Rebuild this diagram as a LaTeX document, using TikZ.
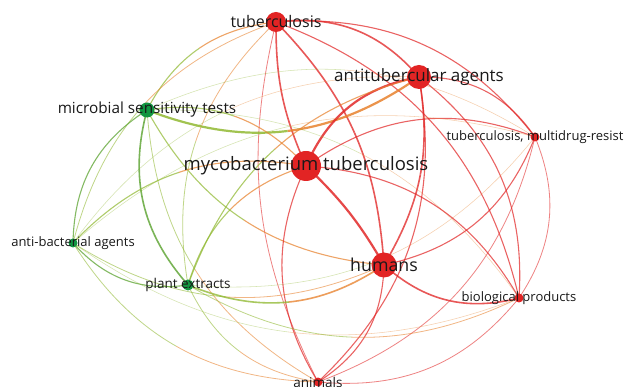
\documentclass[tikz,border=0pt]{standalone}
\usepackage{fontspec}
\setmainfont{Open Sans}
\usetikzlibrary{calc}
\definecolor{rr}{RGB}{226,40,40}
\definecolor{gg}{RGB}{85,160,40}
\definecolor{gy}{RGB}{145,185,50}
\definecolor{oo}{RGB}{232,130,45}
\definecolor{nodered}{RGB}{226,36,36}
\definecolor{nodegreen}{RGB}{18,150,65}
\definecolor{txt}{RGB}{25,25,25}
\newcommand\lnk[6]{%
 \coordinate (p0) at (#1);
 \coordinate (p3) at (#2);
 \coordinate (p1) at ($(p0)!0.3915!#3:(p3)$);
 \coordinate (p2) at ($(p3)!0.3915!-#3:(p0)$);
 \coordinate (q1) at ($(p0)!0.5!(p1)$);
 \coordinate (rm) at ($(p1)!0.5!(p2)$);
 \coordinate (q3) at ($(p2)!0.5!(p3)$);
 \coordinate (q2) at ($(q1)!0.5!(rm)$);
 \coordinate (q4) at ($(rm)!0.5!(q3)$);
 \coordinate (mm) at ($(q2)!0.5!(q4)$);
 \draw[#4,draw=#5] (p0) .. controls (q1) and (q2) .. (mm);
 \draw[#4,draw=#6] (mm) .. controls (q4) and (q3) .. (p3);
}
\tikzset{
 w1/.style={line width=0.55pt, draw opacity=0.38},
 w2/.style={line width=0.8pt, draw opacity=0.58},
 w3/.style={line width=1.1pt, draw opacity=0.72},
 w4/.style={line width=1.6pt, draw opacity=0.78},
 w5/.style={line width=2.2pt, draw opacity=0.85},
 dotR/.style={circle, fill=nodered, inner sep=0pt, minimum size=#1},
 dotG/.style={circle, fill=nodegreen, inner sep=0pt, minimum size=#1},
 lbl/.style={text=txt, inner sep=0pt, anchor=center}
}
\begin{document}
\begin{tikzpicture}[x=1pt,y=-1pt]
\clip (0,0) rectangle (624,387);
\fill[white] (0,0) rectangle (624,387);
% node positions
\node[coordinate] (T) at (276,22) {};
\node[coordinate] (A) at (419,77) {};
\node[coordinate] (M) at (147,110) {};
\node[coordinate] (R) at (535,137) {};
\node[coordinate] (Y) at (306,166) {};
\node[coordinate] (B) at (73,243) {};
\node[coordinate] (H) at (384,265) {};
\node[coordinate] (P) at (188,285) {};
\node[coordinate] (G) at (519,298) {};
\node[coordinate] (N) at (318,382) {};
% links
\lnk{T}{A}{28}{w4}{rr}{rr}
\lnk{M}{T}{28}{w3}{gy}{oo}
\lnk{T}{R}{28}{w3}{rr}{rr}
\lnk{Y}{T}{12}{w4}{rr}{rr}
\lnk{B}{T}{28}{w2}{gy}{oo}
\lnk{T}{H}{20}{w4}{rr}{rr}
\lnk{P}{T}{28}{w2}{gy}{oo}
\lnk{T}{G}{28}{w3}{rr}{rr}
\lnk{N}{T}{20}{w2}{rr}{rr}
\lnk{A}{M}{28}{w5}{oo}{gy}
\lnk{A}{R}{28}{w3}{rr}{rr}
\lnk{Y}{A}{28}{w5}{rr}{rr}
\lnk{B}{A}{28}{w1}{gy}{oo}
\lnk{A}{H}{20}{w4}{rr}{rr}
\lnk{P}{A}{28}{w3}{gy}{oo}
\lnk{A}{G}{28}{w3}{rr}{rr}
\lnk{A}{N}{28}{w3}{rr}{rr}
\lnk{M}{R}{28}{w1}{gy}{oo}
\lnk{M}{Y}{28}{w3}{gy}{oo}
\lnk{B}{M}{28}{w3}{gg}{gg}
\lnk{H}{M}{28}{w3}{oo}{gy}
\lnk{P}{M}{28}{w4}{gg}{gg}
\lnk{M}{G}{28}{w1}{gy}{oo}
\lnk{N}{M}{28}{w2}{oo}{gy}
\lnk{Y}{R}{28}{w3}{rr}{rr}
\lnk{B}{R}{28}{w1}{gy}{oo}
\lnk{R}{H}{28}{w3}{rr}{rr}
\lnk{R}{P}{28}{w1}{oo}{gy}
\lnk{R}{G}{28}{w2}{rr}{rr}
\lnk{R}{N}{28}{w2}{rr}{rr}
\lnk{B}{Y}{28}{w3}{gy}{oo}
\lnk{Y}{H}{8}{w5}{rr}{rr}
\lnk{P}{Y}{28}{w3}{gy}{oo}
\lnk{Y}{G}{28}{w3}{rr}{rr}
\lnk{N}{Y}{28}{w3}{rr}{rr}
\lnk{H}{B}{28}{w2}{oo}{gy}
\lnk{P}{B}{28}{w3}{gg}{gg}
\lnk{G}{B}{28}{w1}{oo}{gy}
\lnk{N}{B}{28}{w2}{oo}{gy}
\lnk{H}{P}{28}{w4}{oo}{gy}
\lnk{G}{H}{28}{w4}{rr}{rr}
\lnk{H}{N}{28}{w3}{rr}{rr}
\lnk{G}{P}{28}{w2}{oo}{gy}
\lnk{N}{P}{28}{w2}{oo}{gy}
\lnk{G}{N}{28}{w2}{rr}{rr}
% node dots
\node[dotR=20pt] (Tc) at (T) {};
\node[dotR=24pt] (Ac) at (A) {};
\node[dotG=15pt] (Mc) at (M) {};
\node[dotR=9pt] (Rc) at (R) {};
\node[dotR=30pt] (Yc) at (Y) {};
\node[dotG=9pt] (Bc) at (B) {};
\node[dotR=25pt] (Hc) at (H) {};
\node[dotG=11pt] (Pc) at (P) {};
\node[dotR=9pt] (Gc) at (G) {};
\node[dotR=9pt] (Nc) at (N) {};
% labels
\node[lbl, font=\fontsize{16}{16}\selectfont] (Tl) at (T) {tuberculosis};
\node[lbl, font=\fontsize{17}{17}\selectfont] (Al) at (A) {antitubercular agents};
\node[lbl, font=\fontsize{15.3}{15}\selectfont] (Ml) at (M) {microbial sensitivity tests};
\node[lbl, font=\fontsize{13}{13}\selectfont] (Rl) at (R) {tuberculosis, multidrug-resist};
\node[lbl, font=\fontsize{18.5}{18}\selectfont] (Yl) at (Y) {mycobacterium tuberculosis};
\node[lbl, font=\fontsize{13}{13}\selectfont] (Bl) at (B) {anti-bacterial agents};
\node[lbl, font=\fontsize{17.8}{18}\selectfont] (Hl) at (H) {humans};
\node[lbl, font=\fontsize{13.5}{13}\selectfont] (Pl) at (P) {plant extracts};
\node[lbl, font=\fontsize{13}{13}\selectfont] (Gl) at (G) {biological products};
\node[lbl, font=\fontsize{13.5}{13}\selectfont] (Nl) at (N) {animals};
\end{tikzpicture}
\end{document}
